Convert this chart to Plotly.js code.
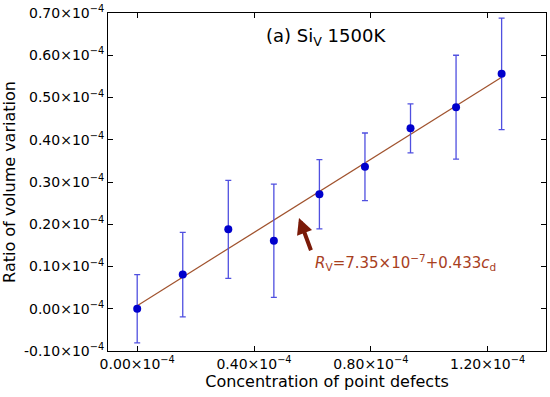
<!DOCTYPE html>
<html><head><meta charset="utf-8">
<script src="https://cdn.plot.ly/plotly-3.0.1.min.js"></script>
<style>html,body{margin:0;padding:0;background:#fff}</style>
</head><body>
<div id="chart" style="width:550px;height:397px"></div>
<script>
// values in units of 1e-4
const conc = [0.0, 0.156, 0.312, 0.468, 0.624, 0.78, 0.936, 1.092, 1.248];
const ratio = [0.0, 0.081, 0.188, 0.161, 0.271, 0.336, 0.427, 0.477, 0.556];
const err = [0.081, 0.100, 0.116, 0.134, 0.082, 0.080, 0.058, 0.123, 0.132];
const fitIntercept = 0.00735; // 7.35e-7 in units of 1e-4
const fitSlope = 0.433;
const xTicks = [0.0, 0.4, 0.8, 1.2];
const xTickText = ['0.00×10<sup>−4</sup>', '0.40×10<sup>−4</sup>', '0.80×10<sup>−4</sup>', '1.20×10<sup>−4</sup>'];
const yTicks = [-0.1, 0.0, 0.1, 0.2, 0.3, 0.4, 0.5, 0.6, 0.7];
const yTickText = ['-0.10×10<sup>−4</sup>', '0.00×10<sup>−4</sup>', '0.10×10<sup>−4</sup>', '0.20×10<sup>−4</sup>', '0.30×10<sup>−4</sup>', '0.40×10<sup>−4</sup>', '0.50×10<sup>−4</sup>', '0.60×10<sup>−4</sup>', '0.70×10<sup>−4</sup>'];

const fitX = [conc[0], conc[conc.length - 1]];
const fitY = fitX.map(x => fitIntercept + fitSlope * x);

const font = 'DejaVu Sans, sans-serif';
const traces = [
  {x: fitX, y: fitY, mode: 'lines', line: {color: '#a0522d', width: 1.2}, hoverinfo: 'skip'},
  {x: conc, y: ratio, mode: 'markers', marker: {color: '#0000cc', size: 8},
   error_y: {type: 'data', array: err, visible: true, color: '#5050e0', thickness: 1.3, width: 3}}
];
const axisCommon = {showgrid: false, zeroline: false, showline: true, mirror: 'ticks', linecolor: '#000', linewidth: 1,
  ticks: 'inside', ticklen: 5, tickcolor: '#000', tickfont: {family: font, size: 14, color: '#000'}};
const layout = {
  width: 550, height: 397, showlegend: false,
  margin: {l: 108, r: 4, t: 13, b: 46},
  paper_bgcolor: '#fff', plot_bgcolor: '#fff',
  xaxis: Object.assign({}, axisCommon, {range: [-0.1, 1.4], tickvals: xTicks, ticktext: xTickText,
    title: {text: 'Concentration of point defects', font: {family: font, size: 16, color: '#000'}, standoff: 3}}),
  yaxis: Object.assign({}, axisCommon, {range: [-0.1, 0.7], tickvals: yTicks, ticktext: yTickText,
    title: {text: 'Ratio of volume variation', font: {family: font, size: 16, color: '#000'}, standoff: 5}}),
  annotations: [
    {x: 0.646, y: 0.644, xref: 'x', yref: 'y', text: '(a) Si<sub>V</sub> 1500K', showarrow: false,
     font: {family: font, size: 18, color: '#000'}},
    {x: 0.554, y: 0.215, ax: 0.597, ay: 0.135, xref: 'x', yref: 'y', axref: 'x', ayref: 'y', text: '',
     showarrow: true, arrowhead: 2, arrowsize: 0.8, arrowwidth: 4, arrowcolor: '#7a1a08'},
    {x: 0.92, y: 0.11, xref: 'x', yref: 'y', text: '<i>R</i><sub>V</sub>=7.35×10<sup>−7</sup>+0.433<i>c</i><sub>d</sub>',
     showarrow: false, font: {family: font, size: 15, color: '#a8401e'}}
  ]
};
Plotly.newPlot('chart', traces, layout, {displayModeBar: false, staticPlot: true});
</script>
</body></html>
